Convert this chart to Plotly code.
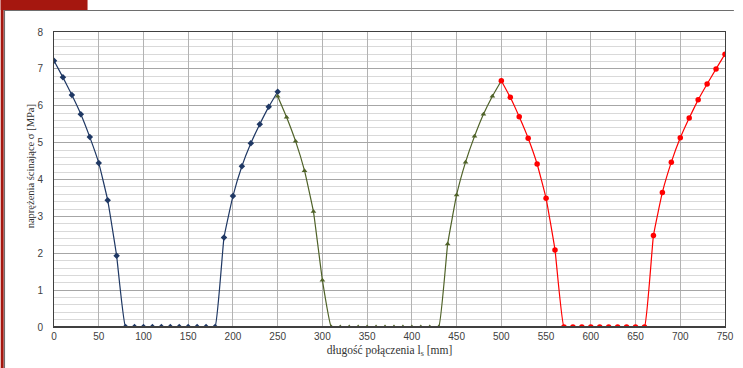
import plotly.graph_objects as go

x_blue = list(range(0, 251, 10))
y_blue = [7.22, 6.77, 6.29, 5.77, 5.15, 4.45, 3.44, 1.93, 0, 0, 0, 0, 0, 0, 0, 0, 0, 0, 0,
          2.43, 3.55, 4.36, 4.98, 5.50, 5.97, 6.38]
x_olive = list(range(250, 501, 10))
y_olive = [6.26, 5.69, 5.04, 4.24, 3.13, 1.27, 0, 0, 0, 0, 0, 0, 0, 0, 0, 0, 0, 0, 0,
           2.25, 3.58, 4.47, 5.17, 5.77, 6.26, 6.68]
x_red = list(range(500, 751, 10))
y_red = [6.68, 6.23, 5.70, 5.12, 4.42, 3.49, 2.09, 0, 0, 0, 0, 0, 0, 0, 0, 0, 0,
         2.48, 3.65, 4.47, 5.13, 5.67, 6.16, 6.59, 7.00, 7.40]

x_ticks = list(range(0, 751, 50))
y_ticks = list(range(0, 9))

fig = go.Figure()
fig.add_trace(go.Scatter(x=x_blue, y=y_blue, mode="lines+markers",
                         line=dict(color="#1f3864", width=1.2, shape="spline", smoothing=0.3),
                         marker=dict(symbol="diamond", size=5, color="#1f3864")))
fig.add_trace(go.Scatter(x=x_olive, y=y_olive, mode="lines+markers",
                         line=dict(color="#4f6228", width=1.2, shape="spline", smoothing=0.3),
                         marker=dict(symbol="triangle-up", size=5, color="#4f6228")))
fig.add_trace(go.Scatter(x=x_red, y=y_red, mode="lines+markers",
                         line=dict(color="#ff0000", width=1.2, shape="spline", smoothing=0.3),
                         marker=dict(symbol="circle", size=5.5, color="#ff0000")))

L, R, T, B = 54, 9, 32, 41
W, H = 743, 368
pw, ph = W - L - R, H - T - B

def xp(px):
    return (px - L) / pw

def yp(py):
    return (H - B - py) / ph

red = "#a5170f"
shapes = [
    dict(type="rect", xref="paper", yref="paper", x0=xp(0), x1=xp(88), y0=yp(10), y1=yp(0),
         fillcolor=red, line=dict(width=0), layer="below"),
    dict(type="rect", xref="paper", yref="paper", x0=xp(0), x1=xp(3), y0=yp(368), y1=yp(0),
         fillcolor=red, line=dict(width=0), layer="below"),
    dict(type="line", xref="paper", yref="paper", x0=xp(3), x1=xp(743), y0=yp(10.5), y1=yp(10.5),
         line=dict(color="#6e6e6e", width=1.2)),
    dict(type="line", xref="paper", yref="paper", x0=xp(3.8), x1=xp(3.8), y0=yp(10), y1=yp(368),
         line=dict(color="#6e6e6e", width=1.2)),
    dict(type="line", xref="x", yref="paper", x0=0, x1=750, y0=0, y1=0,
         line=dict(color="#404040", width=2)),
]

serif = "Liberation Serif, Times New Roman, serif"
annotations = [
    dict(xref="paper", yref="paper", x=xp(30), y=yp(166), text="naprężenia ścinające σ [MPa]",
         textangle=-90, showarrow=False, xanchor="center", yanchor="middle",
         font=dict(family=serif, size=10.5, color="#333333")),
]

fig.update_layout(
    width=W, height=H,
    margin=dict(l=L, r=R, t=T, b=B),
    paper_bgcolor="white", plot_bgcolor="white",
    showlegend=False,
    shapes=shapes,
    annotations=annotations,
    font=dict(family="Liberation Sans, Arial, sans-serif", size=10, color="#404040"),
)
fig.update_xaxes(range=[0, 750], tickvals=x_ticks, ticktext=[str(v) for v in x_ticks],
                 showgrid=True, gridcolor="#b3b3b3", gridwidth=1,
                 showline=True, linecolor="#404040", linewidth=1, mirror=True,
                 ticks="", zeroline=False, tickfont=dict(size=10, color="#404040"),
                 title=dict(text="długość połączenia l<sub>s</sub> [mm]", standoff=4,
                            font=dict(family=serif, size=11.5, color="#333333")))
fig.update_yaxes(range=[0, 8], tickvals=y_ticks, ticktext=[str(v) for v in y_ticks],
                 showgrid=True, gridcolor="#a6a6a6", gridwidth=1,
                 minor=dict(dtick=0.2, showgrid=True, gridcolor="#d9d9d9", gridwidth=1),
                 showline=True, linecolor="#404040", linewidth=1, mirror=True,
                 ticks="", zeroline=False, tickfont=dict(size=10, color="#404040"),
                 ticklabelstandoff=8)

fig.write_html("out.html")
